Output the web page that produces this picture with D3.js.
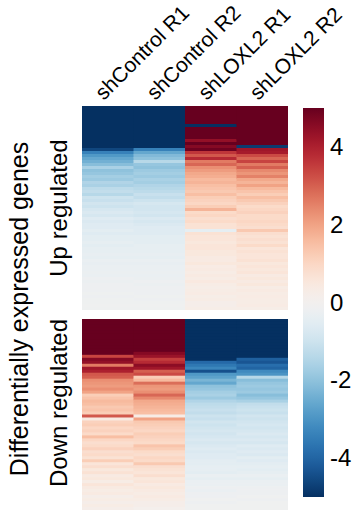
<!DOCTYPE html>
<html>
<head>
<meta charset="utf-8">
<script src="https://cdn.jsdelivr.net/npm/d3@7"></script>
<style>
  html, body { margin: 0; padding: 0; background: #fff; }
  svg { display: block; }
  text { font-family: "Liberation Sans", Arial, Helvetica, sans-serif; fill: #000; }
</style>
</head>
<body>
<svg id="chart" width="353" height="513"></svg>
<script>
// Samples (heatmap columns)
const samples = ["shControl R1", "shControl R2", "shLOXL2 R1", "shLOXL2 R2"];
const colorTicks = [4, 2, 0, -2, -4];
const colorLimit = 5;

// Up-regulated genes (log2 expression, row order top to bottom)
const upCtrlR1 = [-5.9,-6.3,-5.8,-6.1,-5.7,-6.0,-6.2,-5.9,-5.6,-6.0,-5.8,-5.7,-5.9,-5.5,-4.6,
  -3.4,-2.9,-2.6,-2.4,-2.1,-1.6,-2.0,-1.9,-1.7,-1.8,-1.5,-1.6,-1.3,-1.2,-1.4,-1.0,-1.1,-0.9,-1.0,-0.8,
  -0.7,-0.8,-0.6,-0.7,-0.6,-0.6,-0.5,-0.6,-0.5,-0.5,-0.4,-0.5,-0.4,-0.4,-0.35,-0.4,-0.3,-0.35,-0.3,-0.3,
  -0.25,-0.3,-0.2,-0.25,-0.2,-0.2,-0.2,-0.15,-0.2,-0.15,-0.15,-0.1,-0.15];
const upCtrlR2 = [-6.2,-5.7,-6.0,-5.9,-6.1,-5.8,-5.9,-6.3,-5.8,-6.0,-5.7,-5.9,-5.6,-5.4,-3.4,
  -2.6,-2.2,-2.0,-1.4,-1.9,-2.0,-1.8,-1.7,-1.8,-1.6,-1.7,-1.5,-1.4,-1.3,-1.1,-1.2,-1.0,-0.8,-0.9,-0.9,
  -0.8,-0.9,-0.7,-0.8,-0.7,-0.6,-0.6,-0.6,-0.5,-0.5,-0.5,-0.4,-0.4,-0.4,-0.35,-0.4,-0.3,-0.35,-0.3,-0.3,
  -0.25,-0.3,-0.25,-0.2,-0.25,-0.2,-0.2,-0.2,-0.15,-0.2,-0.15,-0.1,-0.15];
const upLoxR1 = [6.1,5.9,6.4,5.7,6.0,5.8,-5.2,6.2,5.9,5.6,6.1,4.4,5.3,4.6,4.9,
  3.6,3.1,3.8,2.6,2.9,2.3,2.1,1.9,1.8,1.6,1.7,1.5,1.4,1.3,1.5,1.2,1.1,1.0,1.2,1.7,
  0.9,1.0,0.8,0.9,0.7,0.7,-0.4,0.7,0.6,0.6,0.5,0.6,0.6,0.5,0.5,0.4,0.4,0.5,0.35,0.4,
  0.3,0.4,0.3,0.45,0.3,0.25,0.3,0.35,0.25,0.3,0.2,0.2,0.25];
const upLoxR2 = [5.8,6.2,5.9,6.0,5.6,6.3,5.9,6.1,5.7,6.0,5.8,5.9,5.5,-4.8,4.2,
  4.1,3.3,2.9,3.4,2.6,3.0,2.4,2.2,2.5,1.9,1.7,2.0,1.6,1.4,1.2,1.5,1.3,1.1,0.9,1.0,
  1.1,0.9,0.9,1.0,0.9,0.8,1.3,0.8,0.7,0.8,0.7,0.9,0.6,0.7,0.6,0.6,0.7,0.5,0.6,0.5,
  0.6,0.4,0.5,0.4,0.5,0.3,0.4,0.3,0.35,0.3,0.3,0.35,0.25];

// Down-regulated genes
const downCtrlR1 = [5.8,6.3,5.9,6.0,6.2,5.7,6.1,5.8,6.0,5.6,5.9,5.3,
  3.4,4.6,4.4,2.6,4.2,4.0,3.1,3.0,2.3,2.2,
  2.1,2.3,2.0,1.2,1.4,1.6,1.5,1.3,1.4,1.2,
  3.1,0.4,1.1,1.2,1.0,1.1,0.9,1.5,1.0,0.8,
  0.9,1.1,0.8,0.9,0.7,1.2,0.6,0.8,0.5,0.7,
  0.4,0.5,0.3,0.6,0.4,0.3,0.4,0.2,0.3,0.2,0.3,0.2];
const downCtrlR2 = [6.1,5.7,6.0,5.9,5.6,6.2,5.8,6.0,5.7,5.9,5.4,4.6,
  4.3,3.5,3.8,4.5,4.2,3.0,3.3,1.2,1.6,2.8,
  2.2,2.1,2.3,2.9,2.4,1.9,1.8,1.7,1.6,1.5,
  0.3,2.0,1.3,1.2,1.1,1.0,1.2,1.1,1.0,0.9,
  1.4,1.2,0.9,0.8,1.0,0.9,1.3,0.8,0.7,0.6,
  0.8,0.5,0.6,0.4,0.5,0.4,0.3,0.4,0.3,0.2,0.2,0.1];
const downLoxR1 = [-6.0,-5.6,-6.3,-5.9,-6.1,-5.8,-6.0,-5.7,-6.2,-5.9,-5.8,-5.6,
  -5.4,-5.1,-3.9,-3.6,-3.3,-4.4,-2.9,-2.7,-2.3,-2.6,
  -2.0,-1.9,-1.7,-1.6,-1.8,-1.5,-1.3,-1.2,-1.1,-1.2,
  -1.0,-1.1,-0.9,-1.0,-0.9,-0.8,-0.9,-0.8,-0.7,-0.8,
  -0.7,-0.6,-0.7,-0.6,-0.6,-0.5,-0.5,-0.4,-0.4,-0.5,
  -0.3,-0.4,-0.3,-0.3,-0.2,-0.3,-0.2,-0.2,-0.1,-0.2,-0.1,-0.1];
const downLoxR2 = [-5.9,-6.2,-5.8,-6.0,-5.7,-6.1,-5.9,-6.0,-5.8,-6.1,-5.7,-5.5,
  -5.2,-4.1,-4.3,-3.8,-4.0,-3.2,-3.0,-1.4,-2.1,-1.9,
  -1.8,-1.9,-1.8,-2.1,-1.9,-1.6,-1.2,-1.1,-1.0,-1.1,
  -0.9,-1.0,-0.9,-0.8,-0.9,-0.8,-0.7,-0.8,-0.7,-0.8,
  -0.6,-0.7,-0.6,-0.7,-0.5,-0.6,-0.5,-0.4,-0.5,-0.4,
  -0.3,-0.4,-0.3,-0.3,-0.2,-0.2,-0.2,-0.1,-0.2,-0.1,-0.1,-0.1];

const panels = [
  { label: "Up regulated", columns: [upCtrlR1, upCtrlR2, upLoxR1, upLoxR2], top: 106, bottom: 310, labelY: 208 },
  { label: "Down regulated", columns: [downCtrlR1, downCtrlR2, downLoxR1, downLoxR2], top: 319, bottom: 510, labelY: 403 }
];

const svg = d3.select("#chart");

// Diverging colour map (red = high, blue = low), clipped at ±5
const color = d3.scaleSequential(d3.interpolateRdBu).domain([colorLimit, -colorLimit]).clamp(true);

const x = d3.scaleBand().domain(samples).range([82, 288]);
const lastSample = samples[samples.length - 1];

panels.forEach(p => {
  const n = p.columns[0].length;
  const y = d3.scaleBand().domain(d3.range(n)).range([p.top, p.bottom]);
  const cells = [];
  p.columns.forEach((col, ci) => col.forEach((v, ri) => cells.push({ sample: samples[ci], row: ri, value: v })));
  // cells overlap their right/lower neighbour slightly so no seams show
  svg.append("g").selectAll("rect").data(cells).join("rect")
    .attr("x", d => x(d.sample))
    .attr("y", d => y(d.row))
    .attr("width", d => d.sample === lastSample ? x.bandwidth() : x.bandwidth() + 0.7)
    .attr("height", d => d.row === n - 1 ? y.bandwidth() : y.bandwidth() + 0.7)
    .attr("fill", d => color(d.value));

  svg.append("text")
    .attr("transform", `translate(67,${p.labelY}) rotate(-90)`)
    .attr("text-anchor", "middle")
    .style("font-size", "24px")
    .text(p.label);
});

// Column labels, slanted
svg.append("g").selectAll("text").data(samples).join("text")
  .attr("transform", d => `translate(${x(d) + x.bandwidth() / 2 - 4},101) rotate(-45)`)
  .attr("text-anchor", "start")
  .style("font-size", "21px")
  .text(d => d);

// Overall row title
svg.append("text")
  .attr("transform", "translate(28,309) rotate(-90)")
  .attr("text-anchor", "middle")
  .style("font-size", "25px")
  .text("Differentially expressed genes");

// Colour bar
const cbX = 303, cbW = 21;
const cScale = d3.scaleLinear().domain([colorLimit, -colorLimit]).range([108, 497]);
const defs = svg.append("defs");
const grad = defs.append("linearGradient").attr("id", "cbar")
  .attr("x1", 0).attr("y1", 0).attr("x2", 0).attr("y2", 1);
d3.range(0, 1.0001, 0.02).forEach(t => {
  grad.append("stop").attr("offset", t).attr("stop-color", color(colorLimit - t * 2 * colorLimit));
});
svg.append("rect")
  .attr("x", cbX).attr("y", cScale(colorLimit))
  .attr("width", cbW).attr("height", cScale(-colorLimit) - cScale(colorLimit))
  .attr("fill", "url(#cbar)");

const axis = svg.append("g")
  .attr("transform", `translate(${cbX + cbW},0)`)
  .call(d3.axisRight(cScale).tickValues(colorTicks).tickSize(0).tickPadding(6).tickFormat(d => String(d)));
axis.select(".domain").remove();
axis.selectAll("text")
  .style("font-size", "24px")
  .style("font-family", "'Liberation Sans', Arial, sans-serif")
  .attr("fill", "#000");
</script>
</body>
</html>
